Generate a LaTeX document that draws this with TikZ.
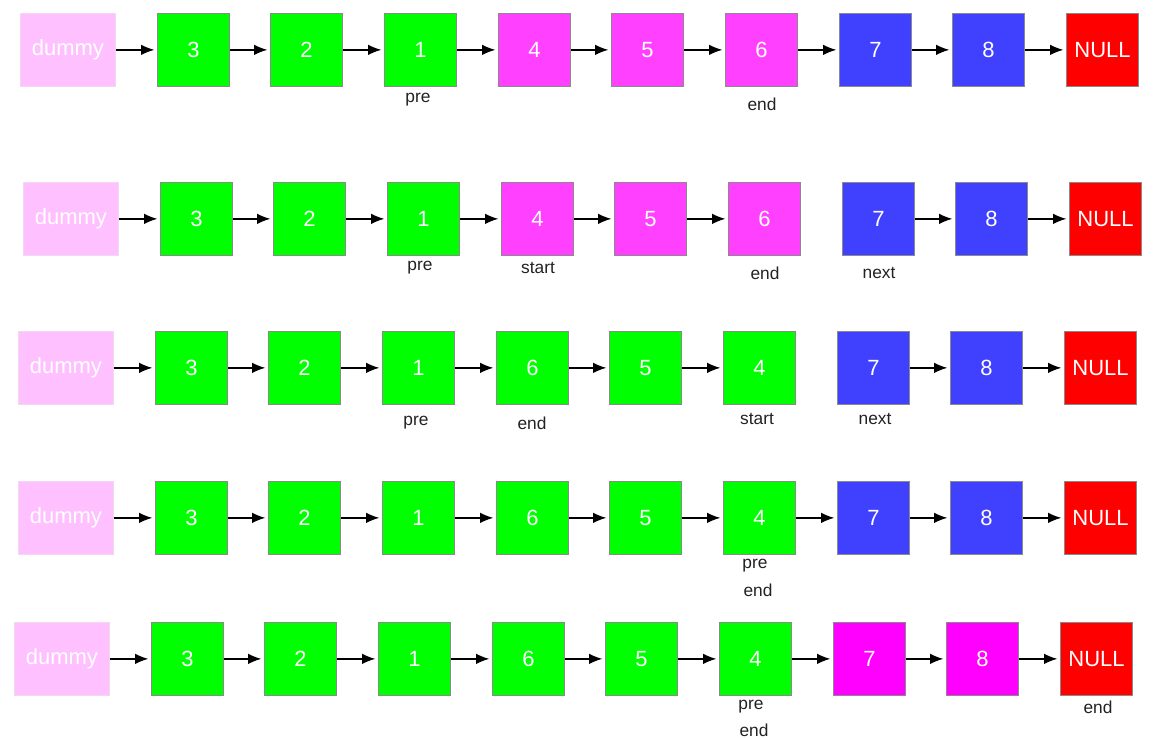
\documentclass[tikz,border=0pt]{standalone}
\usepackage{fontspec}
\setmainfont{Liberation Sans}
\usetikzlibrary{arrows.meta}
\definecolor{cgreen}{HTML}{00FF00}
\definecolor{cmag}{HTML}{FF40FF}
\definecolor{cmagb}{HTML}{FF00FF}
\definecolor{cblue}{HTML}{4040FF}
\definecolor{cred}{HTML}{FF0000}
\definecolor{cdummy}{HTML}{FFC0FF}
\definecolor{cdummyb}{HTML}{F0D8F0}
\definecolor{cbord}{HTML}{8A8A8A}
\definecolor{clabel}{HTML}{222222}
\tikzset{
  box/.style={draw=cbord, line width=0.8pt, minimum width=54pt, minimum height=54.5pt, inner sep=0pt, text=white, font=\fontsize{16.5}{18}\selectfont, anchor=north west},
  dbox/.style={box, fill=cdummy, draw=cdummyb, minimum width=71pt},
  gbox/.style={box, fill=cgreen},
  mbox/.style={box, fill=cmag},
  mbbox/.style={box, fill=cmagb},
  bbox/.style={box, fill=cblue},
  rbox/.style={box, fill=cred},
  lab/.style={font=\fontsize{13}{15}\selectfont, text=clabel, inner sep=0pt},
  arr/.style={-{Latex[length=10pt,width=8pt]}, line width=1pt, shorten >=2pt}
}
\begin{document}
\begin{tikzpicture}[x=0.75pt,y=-0.75pt]
\useasboundingbox (0,0) rectangle (1163,738);
% ---------------- row 1
\begin{scope}[shift={(0,13)}]
\node[dbox] (a0) at (20,0) {dummy};
\node[gbox] (a1) at (157,0) {3};
\node[gbox] (a2) at (270,0) {2};
\node[gbox] (a3) at (384,0) {1};
\node[mbox] (a4) at (498,0) {4};
\node[mbox] (a5) at (611,0) {5};
\node[mbox] (a6) at (725,0) {6};
\node[bbox] (a7) at (839,0) {7};
\node[bbox] (a8) at (952,0) {8};
\node[rbox] (a9) at (1066,0) {NULL};
\end{scope}
\foreach \i/\j in {0/1,1/2,2/3,3/4,4/5,5/6,6/7,7/8,8/9} \draw[arr] (a\i) -- (a\j);
\node[lab] (la1) at (418,100) {pre};
\node[lab] (la2) at (762,104) {end};
% ---------------- row 2
\begin{scope}[shift={(3,182)}]
\node[dbox] (b0) at (20,0) {dummy};
\node[gbox] (b1) at (157,0) {3};
\node[gbox] (b2) at (270,0) {2};
\node[gbox] (b3) at (384,0) {1};
\node[mbox] (b4) at (498,0) {4};
\node[mbox] (b5) at (611,0) {5};
\node[mbox] (b6) at (725,0) {6};
\node[bbox] (b7) at (839,0) {7};
\node[bbox] (b8) at (952,0) {8};
\node[rbox] (b9) at (1066,0) {NULL};
\end{scope}
\foreach \i/\j in {0/1,1/2,2/3,3/4,4/5,5/6,7/8,8/9} \draw[arr] (b\i) -- (b\j);
\node[lab] (lb1) at (420,268) {pre};
\node[lab] (lb2) at (538,268) {start};
\node[lab] (lb3) at (765,273) {end};
\node[lab] (lb4) at (879,273) {next};
% ---------------- row 3
\begin{scope}[shift={(-2,331)}]
\node[dbox] (c0) at (20,0) {dummy};
\node[gbox] (c1) at (157,0) {3};
\node[gbox] (c2) at (270,0) {2};
\node[gbox] (c3) at (384,0) {1};
\node[gbox] (c4) at (498,0) {6};
\node[gbox] (c5) at (611,0) {5};
\node[gbox] (c6) at (725,0) {4};
\node[bbox] (c7) at (839,0) {7};
\node[bbox] (c8) at (952,0) {8};
\node[rbox] (c9) at (1066,0) {NULL};
\end{scope}
\foreach \i/\j in {0/1,1/2,2/3,3/4,4/5,5/6,7/8,8/9} \draw[arr] (c\i) -- (c\j);
\node[lab] (lc1) at (416,423) {pre};
\node[lab] (lc2) at (532,423) {end};
\node[lab] (lc3) at (757,419) {start};
\node[lab] (lc4) at (875,419) {next};
% ---------------- row 4
\begin{scope}[shift={(-2,481)}]
\node[dbox] (d0) at (20,0) {dummy};
\node[gbox] (d1) at (157,0) {3};
\node[gbox] (d2) at (270,0) {2};
\node[gbox] (d3) at (384,0) {1};
\node[gbox] (d4) at (498,0) {6};
\node[gbox] (d5) at (611,0) {5};
\node[gbox] (d6) at (725,0) {4};
\node[bbox] (d7) at (839,0) {7};
\node[bbox] (d8) at (952,0) {8};
\node[rbox] (d9) at (1066,0) {NULL};
\end{scope}
\foreach \i/\j in {0/1,1/2,2/3,3/4,4/5,5/6,6/7,7/8,8/9} \draw[arr] (d\i) -- (d\j);
\node[lab] (ld1) at (755,566) {pre};
\node[lab] (ld2) at (758,590) {end};
% ---------------- row 5
\begin{scope}[shift={(-6,622)}]
\node[dbox] (e0) at (20,0) {dummy};
\node[gbox] (e1) at (157,0) {3};
\node[gbox] (e2) at (270,0) {2};
\node[gbox] (e3) at (384,0) {1};
\node[gbox] (e4) at (498,0) {6};
\node[gbox] (e5) at (611,0) {5};
\node[gbox] (e6) at (725,0) {4};
\node[mbbox] (e7) at (839,0) {7};
\node[mbbox] (e8) at (952,0) {8};
\node[rbox] (e9) at (1066,0) {NULL};
\end{scope}
\foreach \i/\j in {0/1,1/2,2/3,3/4,4/5,5/6,6/7,7/8,8/9} \draw[arr] (e\i) -- (e\j);
\node[lab] (le1) at (751,707) {pre};
\node[lab] (le2) at (754,730) {end};
\node[lab] (le3) at (1098,707) {end};
\end{tikzpicture}
\end{document}
